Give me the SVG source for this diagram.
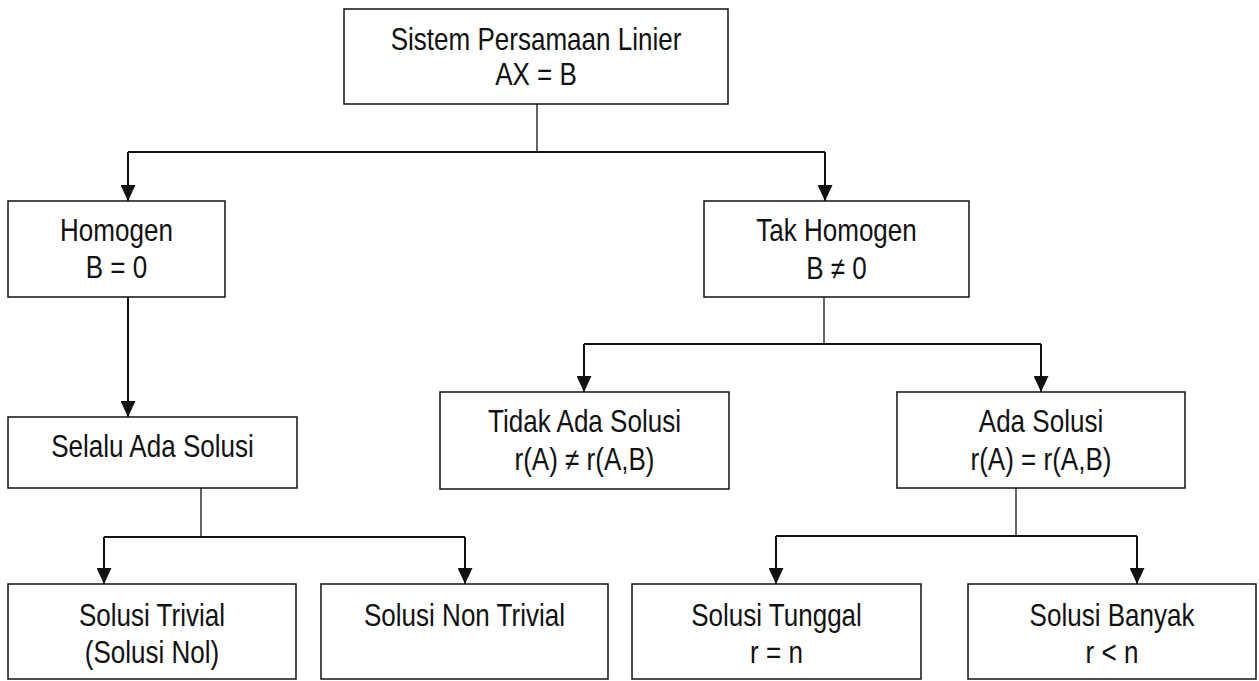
<svg xmlns="http://www.w3.org/2000/svg" width="1259" height="681" viewBox="0 0 1259 681">
<style>
.box{fill:#fff;stroke:#111;stroke-width:1.5}
.t{font-family:"Liberation Sans",Arial,sans-serif;font-size:31px;fill:#111;text-anchor:middle}
.stem{stroke:#111;stroke-width:1.3;fill:none}
.arr{stroke:#111;stroke-width:2;fill:none}
.arrow{stroke:#111;stroke-width:2;fill:none;marker-end:url(#ah)}
</style>
<defs>
<marker id="ah" markerUnits="userSpaceOnUse" markerWidth="16" markerHeight="15" refX="16" refY="7.5" orient="auto">
<path d="M0,0 L16,7.5 L0,15 z" fill="#111"/>
</marker>
</defs>
<rect width="1259" height="681" fill="#fff"/>
<g id="connectors">
<line class="stem" x1="537" y1="104" x2="537" y2="152"/>
<line class="arr" x1="128" y1="152" x2="825" y2="152"/>
<line class="arrow" x1="128" y1="152" x2="128" y2="201"/>
<line class="arrow" x1="825" y1="152" x2="825" y2="201"/>
<line class="arrow" x1="128" y1="297" x2="128" y2="417"/>
<line class="stem" x1="201" y1="488" x2="201" y2="537"/>
<line class="arr" x1="104" y1="537" x2="465" y2="537"/>
<line class="arrow" x1="104" y1="537" x2="104" y2="584"/>
<line class="arrow" x1="465" y1="537" x2="465" y2="584"/>
<line class="stem" x1="824" y1="297" x2="824" y2="344"/>
<line class="arr" x1="584" y1="344" x2="1041" y2="344"/>
<line class="arrow" x1="584" y1="344" x2="584" y2="392"/>
<line class="arrow" x1="1041" y1="344" x2="1041" y2="392"/>
<line class="stem" x1="1016" y1="488" x2="1016" y2="536"/>
<line class="arr" x1="776" y1="536" x2="1137" y2="536"/>
<line class="arrow" x1="776" y1="536" x2="776" y2="584"/>
<line class="arrow" x1="1137" y1="536" x2="1137" y2="584"/>
</g>
<g id="spl">
<rect class="box" x="344" y="9" width="384" height="95"/>
<text class="t" transform="translate(536 50) scale(0.84 1)">Sistem Persamaan Linier</text>
<text class="t" transform="translate(536 85) scale(0.84 1)">AX = B</text>
</g>
<g id="homogen">
<rect class="box" x="8" y="201" width="217" height="96"/>
<text class="t" transform="translate(116.5 241) scale(0.84 1)">Homogen</text>
<text class="t" transform="translate(116.5 278) scale(0.84 1)">B = 0</text>
</g>
<g id="takhomogen">
<rect class="box" x="704" y="201" width="265" height="96"/>
<text class="t" transform="translate(836.5 241) scale(0.84 1)">Tak Homogen</text>
<text class="t" transform="translate(836.5 279) scale(0.84 1)">B ≠ 0</text>
</g>
<g id="selalu">
<rect class="box" x="8" y="417" width="289" height="71"/>
<text class="t" transform="translate(152.5 457) scale(0.84 1)">Selalu Ada Solusi</text>
</g>
<g id="tidak">
<rect class="box" x="440" y="392" width="289" height="97"/>
<text class="t" transform="translate(584.5 432) scale(0.84 1)">Tidak Ada Solusi</text>
<text class="t" transform="translate(584.5 470) scale(0.84 1)">r(A) ≠ r(A,B)</text>
</g>
<g id="ada">
<rect class="box" x="897" y="392" width="288" height="96"/>
<text class="t" transform="translate(1041 432) scale(0.84 1)">Ada Solusi</text>
<text class="t" transform="translate(1041 470) scale(0.84 1)">r(A) = r(A,B)</text>
</g>
<g id="trivial">
<rect class="box" x="8" y="584" width="288" height="95"/>
<text class="t" transform="translate(152 626) scale(0.84 1)">Solusi Trivial</text>
<text class="t" transform="translate(152 663) scale(0.84 1)">(Solusi Nol)</text>
</g>
<g id="nontrivial">
<rect class="box" x="321" y="584" width="287" height="95"/>
<text class="t" transform="translate(464.5 626) scale(0.84 1)">Solusi Non Trivial</text>
</g>
<g id="tunggal">
<rect class="box" x="632" y="584" width="289" height="95"/>
<text class="t" transform="translate(776.5 626) scale(0.84 1)">Solusi Tunggal</text>
<text class="t" transform="translate(776.5 663) scale(0.84 1)">r = n</text>
</g>
<g id="banyak">
<rect class="box" x="968" y="584" width="288" height="95"/>
<text class="t" transform="translate(1112 626) scale(0.84 1)">Solusi Banyak</text>
<text class="t" transform="translate(1112 663) scale(0.84 1)">r &lt; n</text>
</g>
</svg>
